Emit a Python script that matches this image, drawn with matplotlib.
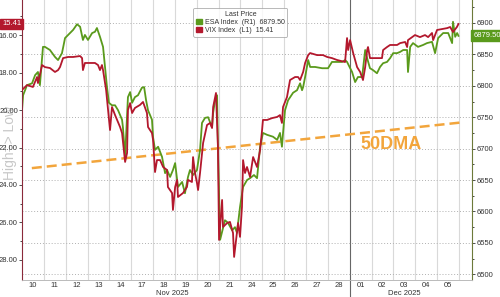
import numpy as np
import matplotlib
matplotlib.use("Agg")
import matplotlib.pyplot as plt
from matplotlib.patches import Patch

plt.rcParams['font.family'] = ['Liberation Sans', 'DejaVu Sans']

# trading-day index (0 = start of 10 Nov) and index levels
esa_t = [0.00, 0.05, 0.23, 0.46, 0.60, 0.73, 0.82, 0.96, 1.05, 1.28, 1.51, 1.65, 1.83, 1.97,
         2.20, 2.34, 2.52, 2.66, 2.79, 2.88, 3.02, 3.21, 3.34, 3.43, 3.57, 3.71, 3.80, 3.89,
         3.98, 4.12, 4.26, 4.40, 4.58, 4.62, 4.72, 4.85, 4.95, 5.04, 5.17, 5.31, 5.49, 5.59,
         5.68, 5.77, 5.95, 6.00, 6.09, 6.23, 6.41, 6.55, 6.64, 6.78, 6.91, 7.01, 7.14, 7.33,
         7.46, 7.60, 7.69, 7.83, 8.01, 8.15, 8.24, 8.38, 8.52, 8.70, 8.75, 8.84, 8.93, 8.97,
         9.07, 9.29, 9.43, 9.62, 9.75, 9.84, 9.98, 10.12, 10.30, 10.44, 10.62, 10.76, 10.90,
         11.03, 11.22, 11.49, 11.68, 11.81, 11.90, 11.95, 12.04, 12.18, 12.41, 12.59, 12.73,
         12.82, 12.87, 12.96, 13.10, 13.19, 13.42, 13.74, 14.01, 14.19, 14.42, 14.65, 14.79,
         14.88, 15.11, 15.25, 15.38, 15.57, 15.71, 15.80, 15.93, 16.07, 16.25, 16.39, 16.53,
         16.71, 16.85, 16.99, 17.17, 17.31, 17.45, 17.63, 17.67, 17.77, 17.90, 18.13, 18.36,
         18.54, 18.77, 18.91, 19.05, 19.28, 19.51, 19.69, 19.73, 19.83, 19.92, 19.98]
esa_v = [6761, 6785, 6801, 6804, 6817, 6822, 6801, 6862, 6862, 6857, 6846, 6841, 6852, 6876,
         6884, 6889, 6898, 6894, 6873, 6881, 6873, 6884, 6886, 6892, 6878, 6862, 6830, 6798,
         6773, 6769, 6769, 6761, 6746, 6734, 6687, 6782, 6790, 6773, 6782, 6785, 6797, 6798,
         6777, 6761, 6746, 6718, 6698, 6703, 6687, 6661, 6666, 6655, 6666, 6677, 6639, 6647,
         6629, 6655, 6666, 6658, 6666, 6698, 6741, 6749, 6750, 6734, 6757, 6777, 6785, 6703,
         6555, 6586, 6582, 6570, 6575, 6566, 6607, 6639, 6650, 6653, 6658, 6653, 6703,
         6725, 6722, 6719, 6714, 6725, 6703, 6725, 6761, 6777, 6789, 6793, 6804,
         6793, 6798, 6814, 6841, 6830, 6830, 6828, 6828, 6838, 6838, 6838, 6841,
         6838, 6822, 6806, 6814, 6814, 6857, 6844, 6828, 6825, 6820, 6830, 6836,
         6838, 6844, 6852, 6852, 6854, 6857, 6857, 6822, 6862, 6868, 6862, 6865,
         6868, 6870, 6852, 6876, 6884, 6884, 6868, 6902, 6878, 6884, 6879.5]

vix_t = [0.00, 0.23, 0.50, 0.69, 0.73, 0.92, 1.05, 1.28, 1.51, 1.65, 1.74, 1.88, 2.11, 2.34,
         2.66, 2.75, 2.79, 2.88, 3.11, 3.34, 3.48, 3.57, 3.66, 3.71, 3.85, 3.94, 4.03, 4.12,
         4.26, 4.49, 4.58, 4.72, 4.81, 4.85, 4.95, 5.04, 5.17, 5.40, 5.54, 5.72, 5.77, 5.95,
         6.00, 6.09, 6.18, 6.32, 6.46, 6.64, 6.68, 6.87, 6.91, 7.01, 7.10, 7.14, 7.37, 7.55,
         7.60, 7.78, 7.83, 7.92, 8.01, 8.06, 8.15, 8.29, 8.47, 8.61, 8.70, 8.75, 8.88, 8.97,
         9.02, 9.16, 9.20, 9.39, 9.52, 9.66, 9.71, 9.84, 9.89, 9.98, 10.07, 10.12, 10.21,
         10.30, 10.44, 10.58, 10.76, 10.90, 10.99, 11.03, 11.22, 11.45, 11.68, 11.81, 11.90,
         11.95, 12.13, 12.27, 12.50, 12.64, 12.73, 12.87, 12.96, 13.05, 13.10, 13.19, 13.51,
         13.78, 13.97, 14.19, 14.42, 14.79, 14.88, 14.93, 15.02, 15.16, 15.34, 15.48, 15.61,
         15.71, 15.80, 15.84, 15.93, 16.25, 16.48, 16.53, 16.71, 16.85, 17.17, 17.31, 17.54,
         17.63, 17.67, 17.86, 17.99, 18.22, 18.45, 18.59, 18.77, 18.82, 19.00, 19.23, 19.46,
         19.60, 19.73, 19.91, 19.98]
vix_v = [18.93, 18.67, 18.77, 18.24, 18.56, 17.60, 17.71, 17.76, 17.97, 17.87, 17.71, 17.23,
         17.17, 17.17, 17.12, 17.23, 17.87, 17.49, 17.49, 17.49, 17.60, 17.87, 17.60, 17.87,
         18.93, 20.00, 21.07, 19.84, 20.27, 20.91, 21.23, 22.77, 22.29, 20.00, 19.63, 20.16,
         19.89, 19.73, 19.57, 20.16, 20.91, 21.23, 21.60, 23.31, 22.67, 22.67, 23.04, 23.20,
         24.11, 24.43, 25.33, 24.11, 23.73, 24.64, 24.43, 24.11, 23.73, 23.84, 22.51, 23.36,
         23.89, 24.27, 23.36, 21.76, 20.80, 20.69, 20.96, 19.84, 19.09, 21.97, 26.93, 24.80,
         26.24, 26.03, 25.97, 26.56, 27.84, 26.56, 26.03, 26.77, 25.17, 22.67, 23.36, 23.04,
         23.57, 22.51, 23.04, 22.13, 21.07, 20.53, 20.53, 20.43, 20.37, 20.27, 20.69, 19.84,
         19.31, 18.40, 18.24, 18.24, 18.40, 17.97, 17.49, 17.23, 17.07, 16.96, 17.07, 17.07,
         17.17, 17.23, 17.33, 17.44, 16.16, 16.80, 16.27, 16.96, 17.71, 17.97, 18.40, 17.71,
         16.80, 16.64, 17.23, 17.23, 17.23, 16.80, 16.64, 16.53, 16.53, 16.43, 16.37, 16.64,
         16.27, 16.11, 16.00, 16.11, 16.00, 16.11, 15.89, 16.27, 15.73, 15.68, 15.63, 15.57,
         15.84, 15.57, 15.41]

dma_t = [0.45, 20.2]
dma_v = [6669, 6742]

day_labels = ['10', '11', '12', '13', '14', '17', '18', '19', '20', '21',
              '24', '25', '26', '27', '28', '01', '02', '03', '04', '05']

green = '#5a9a1c'
red = '#b3182d'
orange = '#f2a53c'

fig = plt.figure(figsize=(5, 2.97), dpi=100)
ax = fig.add_axes([0.044, 0.0572, 0.9, 0.9428])
ax2 = ax.twinx()
ax.set_zorder(ax2.get_zorder() + 1)
ax.patch.set_visible(False)

ax.set_xlim(0, 20.6)
ax.set_ylim(29.07, 14.13)
ax2.set_ylim(6490.9, 6936.6)

# grid
for d in range(1, 21):
    ax2.axvline(d, color='#666666' if d == 15 else '#d9d9d9', lw=0.8, zorder=0)
for v in range(6500, 6901, 50):
    ax2.axhline(v, color='#b0b0b0', lw=0.7, ls=(0, (1, 2)), zorder=0)

ax2.plot(dma_t, dma_v, color=orange, lw=1.8, ls=(0, (4, 2)), zorder=1)
ax2.text(16.9, 6706, '50DMA', color=orange, fontsize=13, fontweight='bold',
         ha='center', va='center')

ax2.plot(esa_t, esa_v, color=green, lw=1.3, zorder=2)
ax.plot(vix_t, vix_v, color=red, lw=1.3, zorder=3)

# axes styling
ax.set_yticks(np.arange(16, 29, 2))
ax.set_yticklabels(['%.2f' % v for v in np.arange(16, 29, 2)])
ax.set_yticks(np.arange(15, 29, 1), minor=True)
ax2.set_yticks(np.arange(6500, 6901, 50))
ax2.set_yticks(np.arange(6525, 6926, 50), minor=True)
ax.tick_params(axis='y', labelsize=5.5, colors='#333333', length=2, width=0.6, pad=1)
ax.tick_params(axis='y', which='minor', length=1.5, width=0.5)
ax2.tick_params(axis='y', labelsize=5.5, colors='#333333', length=2, width=0.6, pad=1)
ax2.tick_params(axis='y', which='minor', length=1.5, width=0.5)

ax.set_xticks(np.arange(20) + 0.5)
ax.set_xticklabels(day_labels)
ax.tick_params(axis='x', labelsize=5.5, colors='#333333', length=0, pad=1.5)

ax.spines['left'].set_color('#8a2a3a')
ax2.spines['left'].set_visible(False)
ax2.spines['right'].set_color('#6d7a3a')
ax.spines['right'].set_visible(False)
for a in (ax, ax2):
    a.spines['top'].set_visible(False)
    a.spines['bottom'].set_color('#bbbbbb')
    a.spines['bottom'].set_linewidth(0.6)

ax.text(6.9, -0.047, 'Nov 2025', transform=ax.get_xaxis_transform(), fontsize=5.5,
        color='#333333', ha='center', va='center')
ax.text(17.5, -0.047, 'Dec 2025', transform=ax.get_xaxis_transform(), fontsize=5.5,
        color='#333333', ha='center', va='center')
ax.plot([15, 15], [0, -0.07], transform=ax.get_xaxis_transform(), color='#666666',
        lw=0.8, clip_on=False)

fig.text(0.02, 0.52, 'High=> Low', rotation=90, fontsize=10, color='#c8c8c8',
         ha='center', va='center', zorder=0)

# last price tags
ax.text(-0.002, vix_v[-1], '%.2f' % vix_v[-1], transform=ax.get_yaxis_transform(),
        fontsize=5.5, color='white', ha='right', va='center',
        bbox=dict(boxstyle='square,pad=0.25', fc=red, ec=red))
ax2.text(1.003, esa_v[-1], '%.2f' % esa_v[-1], transform=ax2.get_yaxis_transform(),
         fontsize=5.5, color='white', ha='left', va='center',
         bbox=dict(boxstyle='square,pad=0.25', fc=green, ec=green))

handles = [Patch(color=green), Patch(color=red)]
labels = ['ESA Index  (R1)  %.2f' % esa_v[-1], 'VIX Index  (L1)  %.2f' % vix_v[-1]]
leg = fig.legend(handles, labels, title='Last Price', loc='upper left',
                 bbox_to_anchor=(0.38, 0.985), fontsize=5.0, title_fontsize=5.0,
                 frameon=True, handlelength=0.8, handleheight=0.8, handletextpad=0.4,
                 borderpad=0.4, labelspacing=0.15, fancybox=True)
leg.get_frame().set_edgecolor('#999999')
leg.get_frame().set_linewidth(0.6)
leg.get_title().set_color('#333333')
for t in leg.get_texts():
    t.set_color('#333333')

fig.savefig('out.png', dpi=100)
